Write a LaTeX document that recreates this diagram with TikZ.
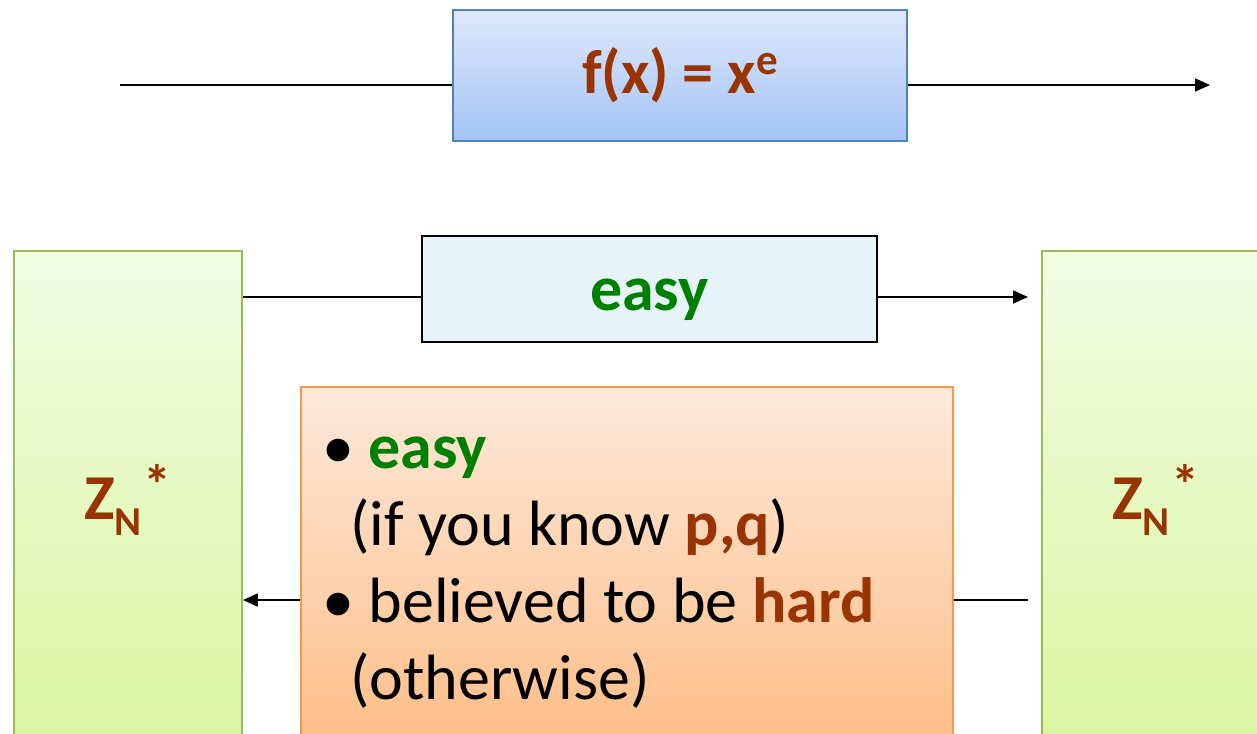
\documentclass[tikz,border=0pt]{standalone}
\usepackage{fontspec}
\setmainfont{Carlito}
\usepackage{tikz}
\usetikzlibrary{positioning,arrows.meta,calc}
\definecolor{rustred}{RGB}{153,51,0}
\definecolor{leafgreen}{RGB}{0,128,0}
\definecolor{skyedge}{RGB}{79,129,189}
\definecolor{skytop}{RGB}{222,233,252}
\definecolor{skybot}{RGB}{164,195,245}
\definecolor{iceblue}{RGB}{230,244,250}
\definecolor{limeedge}{RGB}{155,187,89}
\definecolor{limetop}{RGB}{242,252,228}
\definecolor{limebot}{RGB}{218,246,160}
\definecolor{peachedge}{RGB}{247,150,70}
\definecolor{peachtop}{RGB}{253,233,218}
\definecolor{peachbot}{RGB}{255,188,133}
\newcommand{\zstar}{\textcolor{rustred}{\bfseries Z\raisebox{-16pt}{\fontsize{41}{41}\selectfont N}\hspace{2pt}\raisebox{15pt}{\fontsize{56}{56}\selectfont *}}}

\begin{document}
\begin{tikzpicture}[x=1pt, y=-1pt,
        bigfont/.style={font=\fontsize{64}{77}\selectfont},
        fbox/.style={draw=skyedge, line width=1.8pt, top color=skytop, bottom color=skybot,
                     minimum width=454pt, minimum height=131pt, inner sep=0pt, font=\fontsize{62}{77}\selectfont},
        ebox/.style={draw=black, line width=1.3pt, fill=iceblue,
                     minimum width=455pt, minimum height=106pt, inner sep=0pt, bigfont,
                     text height=52pt, text depth=10pt},
        zbox/.style={draw=limeedge, line width=1.8pt, top color=limetop, bottom color=limebot,
                     minimum width=228pt, minimum height=498pt, inner sep=0pt, bigfont},
        obox/.style={draw=peachedge, line width=1.8pt, top color=peachtop, bottom color=peachbot,
                     minimum width=652pt, minimum height=373pt, inner sep=0pt},
        arr/.style={-{Triangle[length=15pt,width=13pt]}, line width=1.8pt},
        ln/.style={line width=1.8pt}
    ]
    \clip (0,0) rectangle (1257,733);

    \node[fbox] (fx) at (680,75.5) {\textcolor{rustred}{\bfseries f(x) = x\raisebox{19pt}{\fontsize{43}{43}\selectfont e}}};
    \coordinate (fin) at (120,85);
    \coordinate (fout) at (1210,85);
    \draw[ln] (fin) -- (fin -| fx.west);
    \draw[arr] (fout -| fx.east) -- (fout);

    \node[zbox] (zl) at (128,500) {\zstar};
    \node[zbox] (zr) at (1156,500) {\zstar};

    \node[ebox] (easy) at (649.5,289) {\textcolor{leafgreen}{\bfseries easy}};
    \coordinate (eout) at (1028,297);
    \draw[ln] (eout -| zl.east) -- (eout -| easy.west);
    \draw[arr] (eout -| easy.east) -- (eout);

    \coordinate (bin) at (1028,600);
    \draw[arr] (bin) -- (bin -| zl.east);

    \node[obox] (inv) at (627,573.5) {};
    \node[anchor=north west, inner sep=0pt, align=left, bigfont] (invtxt) at (322,414)
        {\strut\textbullet\ \textcolor{leafgreen}{\bfseries easy}\\
         \hspace*{28pt}(if you know \textcolor{rustred}{\bfseries p,q})\\
         \textbullet\ believed to be \textcolor{rustred}{\bfseries hard}\\
         \hspace*{28pt}(otherwise)};
\end{tikzpicture}
\end{document}
